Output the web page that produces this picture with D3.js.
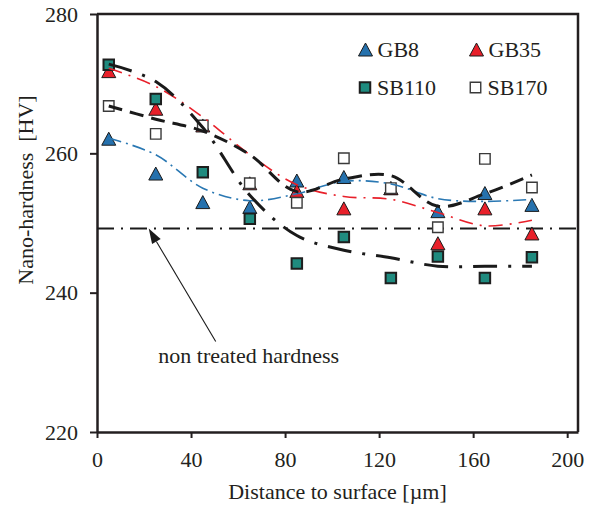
<!DOCTYPE html>
<html>
<head>
<meta charset="utf-8">
<script src="https://cdn.jsdelivr.net/npm/d3@7"></script>
<style>
  body { margin: 0; background: #fff; }
  text { font-family: "Liberation Serif", "Times New Roman", serif; fill: #231f20; }
</style>
</head>
<body>
<svg id="chart" width="597" height="510"></svg>
<script>
// Measurement depths [µm]
const distance = [5, 25, 45, 65, 85, 105, 125, 145, 165, 185];

// Measured nano-hardness [HV]
const gb8   = [262.1, 257.1, 253.0, 252.3, 256.1, 256.6, 255.0, 251.7, 254.3, 252.6];
const gb35  = [271.8, 266.4, 264.0, 255.7, 254.6, 252.1, 255.0, 247.1, 252.1, 248.5];
const sb110 = [272.7, 267.8, 257.3, 250.6, 244.2, 248.0, 242.1, 245.2, 242.1, 245.1];
const sb170 = [266.8, 262.8, 264.0, 255.7, 252.9, 259.3, 255.0, 249.4, 259.2, 255.1];

// Smoothed trend of each treatment [HV]
const gb8Trend   = [262.2, 259.8, 255.0, 253.2, 254.2, 256.0, 255.6, 253.5, 253.1, 253.4];
const gb35Trend  = [272.2, 269.6, 265.2, 259.8, 255.5, 253.8, 253.4, 251.5, 249.6, 250.4];
const sb110Trend = [272.8, 270.3, 263.7, 254.0, 248.2, 246.1, 245.0, 243.8, 243.8, 243.8];
const sb170Trend = [266.8, 264.9, 263.2, 259.8, 254.5, 256.3, 256.8, 252.4, 254.2, 256.9];

// Hardness of the untreated material [HV]
const baseHardness = 249.2;

// Axis ticks
const xTicks = [0, 40, 80, 120, 160, 200];
const yTicks = [220, 240, 260, 280];

const series = [
  { name: "GB8",   values: gb8,   trend: gb8Trend,   shape: "triangle", fill: "#2571ad", stroke: "#1b1b1b", sw: 1,
    line: { color: "#2a78b3", width: 1.6, dash: "13,5,2,5" } },
  { name: "GB35",  values: gb35,  trend: gb35Trend,  shape: "triangle", fill: "#e8202a", stroke: "#1b1b1b", sw: 1,
    line: { color: "#e8202a", width: 1.6, dash: "14,7,2,7" } },
  { name: "SB110", values: sb110, trend: sb110Trend, shape: "square",   fill: "#1f8b7f", stroke: "#1e1e1e", sw: 2,
    line: { color: "#1a1a1a", width: 3, dash: "24,11,3,11" } },
  { name: "SB170", values: sb170, trend: sb170Trend, shape: "square",   fill: "#ffffff", stroke: "#3a3a3a", sw: 1.4,
    line: { color: "#1a1a1a", width: 3, dash: "14,8" } }
];

const svg = d3.select("#chart");
const plotLeft = 97, plotRight = 578, plotTop = 14, plotBottom = 432;

const x = d3.scaleLinear().domain([0, 204.6]).range([plotLeft, plotRight]);
const y = d3.scaleLinear().domain([220, 280]).range([plotBottom, plotTop]);

function markerPath(shape) {
  if (shape === "triangle") {
    const w = 14, h = 13;
    return `M0,${-h / 2}L${w / 2},${h / 2}L${-w / 2},${h / 2}Z`;
  }
  const s = 10.5;
  return `M${-s / 2},${-s / 2}h${s}v${s}h${-s}Z`;
}

// Axes
const yAxis = d3.axisLeft(y).tickValues(yTicks).tickSize(7).tickSizeOuter(0).tickPadding(12);
const xAxis = d3.axisBottom(x).tickValues(xTicks).tickSize(6).tickSizeOuter(0).tickPadding(13);

const gy = svg.append("g").attr("transform", `translate(${plotLeft},0)`).call(yAxis);
const gx = svg.append("g").attr("transform", `translate(0,${plotBottom})`).call(xAxis);
[gx, gy].forEach(g => {
  g.select(".domain").attr("stroke", "#231f20").attr("stroke-width", 2.5);
  g.selectAll(".tick line").attr("stroke", "#231f20").attr("stroke-width", 2);
  g.selectAll(".tick text").attr("font-size", 22).attr("fill", "#231f20")
    .style("font-family", '"Liberation Serif", "Times New Roman", serif');
});

// Frame top and right
svg.append("path")
  .attr("d", `M${plotLeft},${plotTop}H${plotRight}V${plotBottom}`)
  .attr("fill", "none").attr("stroke", "#231f20").attr("stroke-width", 2.5);

// Untreated hardness reference
svg.append("line")
  .attr("x1", plotLeft).attr("x2", plotRight + 2)
  .attr("y1", y(baseHardness)).attr("y2", y(baseHardness))
  .attr("stroke", "#1a1a1a").attr("stroke-width", 2)
  .attr("stroke-dasharray", "17,7,2,7");

// Markers
series.forEach(s => {
  svg.append("g").selectAll("path")
    .data(distance.map((d, i) => ({ d, v: s.values[i] })).filter(p => p.v != null))
    .join("path")
    .attr("d", markerPath(s.shape))
    .attr("transform", p => `translate(${x(p.d)},${y(p.v)})`)
    .attr("fill", s.fill).attr("stroke", s.stroke).attr("stroke-width", s.sw);
});

// Trend lines
const trendLine = d3.line()
  .x(p => x(p.d)).y(p => y(p.v))
  .curve(d3.curveCatmullRom.alpha(0.5));

series.forEach(s => {
  svg.append("path")
    .datum(distance.map((d, i) => ({ d, v: s.trend[i] })))
    .attr("d", trendLine)
    .attr("fill", "none")
    .attr("stroke", s.line.color)
    .attr("stroke-width", s.line.width)
    .attr("stroke-dasharray", s.line.dash);
});

// Legend
const legendPos = [[365.5, 49.5], [476.5, 49.5], [365, 87.5], [475.5, 87.5]];
series.forEach((s, i) => {
  const [lx, ly] = legendPos[i];
  svg.append("path")
    .attr("d", markerPath(s.shape))
    .attr("transform", `translate(${lx},${ly})`)
    .attr("fill", s.fill).attr("stroke", s.stroke).attr("stroke-width", s.sw);
  svg.append("text")
    .attr("x", lx + 12).attr("y", ly + 7.5)
    .attr("font-size", 22)
    .text(s.name);
});

// Annotation for untreated hardness
const arrowTip = [22, baseHardness];
const arrowTail = [50.5, 233.0];
const tx = x(arrowTip[0]), ty = y(arrowTip[1]);
const sx = x(arrowTail[0]), sy = y(arrowTail[1]);
const len = Math.hypot(sx - tx, sy - ty);
const ux = (sx - tx) / len, uy = (sy - ty) / len;
const headLen = 15, headHalf = 5;
const bx = tx + ux * headLen, by = ty + uy * headLen;
svg.append("line")
  .attr("x1", sx).attr("y1", sy).attr("x2", bx).attr("y2", by)
  .attr("stroke", "#1a1a1a").attr("stroke-width", 1.1);
svg.append("path")
  .attr("d", `M${tx},${ty}L${bx - uy * headHalf},${by + ux * headHalf}L${bx + uy * headHalf},${by - ux * headHalf}Z`)
  .attr("fill", "#1a1a1a");
svg.append("text")
  .attr("x", x(26.1)).attr("y", y(229.9))
  .attr("font-size", 22)
  .text("non treated hardness");

// Axis titles
svg.append("text")
  .attr("x", (plotLeft + plotRight) / 2).attr("y", 499)
  .attr("text-anchor", "middle")
  .attr("font-size", 22)
  .text("Distance to surface [µm]");

svg.append("text")
  .attr("transform", `translate(33,${(plotTop + plotBottom) / 2 - 33}) rotate(-90)`)
  .attr("text-anchor", "middle")
  .attr("font-size", 22)
  .text("Nano-hardness\u00a0\u00a0[HV]");
</script>
</body>
</html>
